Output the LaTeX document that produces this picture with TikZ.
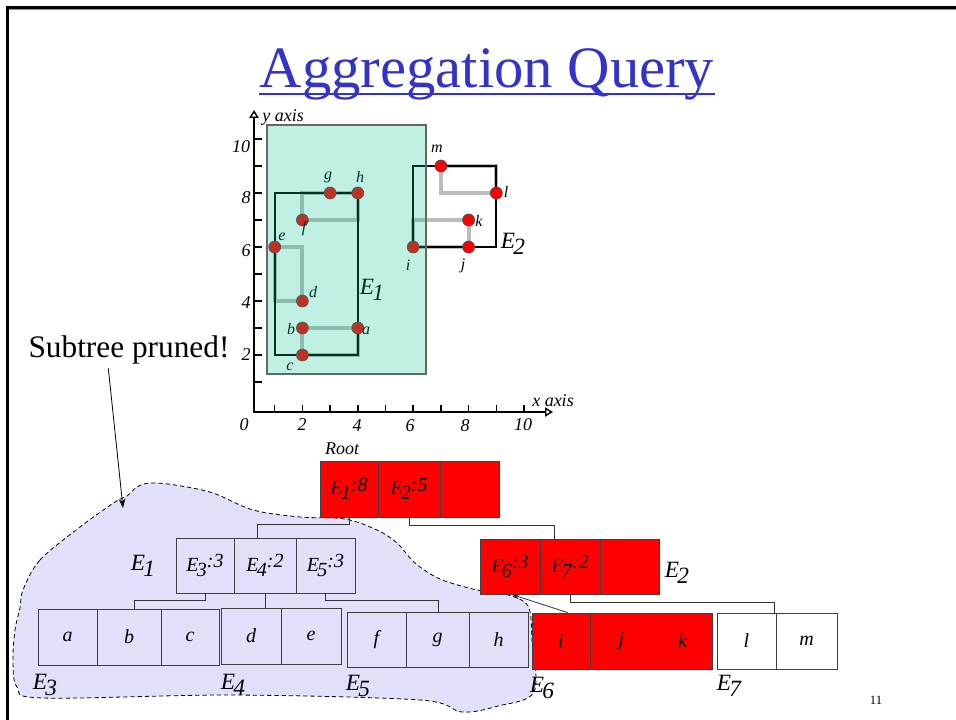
\documentclass[tikz,border=0pt]{standalone}
\usepackage{fontspec}
\setmainfont{Liberation Serif}
\usetikzlibrary{arrows.meta,calc}
\definecolor{titleblue}{HTML}{3333CC}
\definecolor{tealov}{RGB}{4,192,147}
\definecolor{cloudc}{RGB}{224,224,250}
\definecolor{mbrgray}{RGB}{188,188,188}
\definecolor{ptred}{RGB}{255,0,0}
\newcommand\Es[1]{E\kern-0.08em\raisebox{-0.55ex}{#1}}
\newcommand\cellbox[7]{%
  \pgfmathsetmacro\cw{(#4-#2)*0.75}%
  \pgfmathsetmacro\ch{(#5-#3)*0.75}%
  \node[cellst, fill=#6, minimum width=\cw pt, minimum height=\ch pt] (#1) at ({(#2+#4)/2},{(#3+#5)/2}) {#7};%
}
\newcommand\ctext[2]{\Es{#1}\raisebox{0.35ex}{:#2}}
\begin{document}
\begin{tikzpicture}[x=0.75pt,y=-0.75pt,
  cellst/.style={draw=black!75, line width=0.6pt, inner sep=0pt, font=\fontsize{15}{17}\selectfont\itshape},
  lbl/.style={inner sep=0pt, font=\fontsize{12}{14}\selectfont\itshape},
  num/.style={inner sep=0pt, font=\fontsize{13.5}{15}\selectfont\itshape},
  elbl/.style={inner sep=0pt, font=\fontsize{17.5}{20}\selectfont\itshape},
  dot/.style={circle, fill=ptred, draw=black!70, line width=0.5pt, minimum size=9pt, inner sep=0pt},
  mbr/.style={draw=mbrgray, line width=3pt},
  bigmbr/.style={draw=black, line width=1.5pt},
  conn/.style={draw=black!80, line width=0.6pt},
  axisl/.style={draw=black, line width=1.1pt},
]
\useasboundingbox (0,0) rectangle (956,720);
\fill[white] (0,0) rectangle (956,720);
% slide frame
\draw[black, line width=2.25pt] (6,7.5) -- (956,7.5);
\draw[black!45, line width=0.75pt] (9,9.8) -- (956,9.8);
\draw[black, line width=2.25pt] (7.5,6) -- (7.5,720);

% title
\node[anchor=base, inner sep=0pt, text=titleblue, font=\fontsize{44}{50}\selectfont] (ttl) at (487,88) {Aggregation Query};
\draw[titleblue, line width=1.3pt] ([yshift=-4.5pt]ttl.base west) -- ([yshift=-4.5pt]ttl.base east);

% cloud
\draw[fill=cloudc, line width=0.6pt, dash pattern=on 3.2pt off 2.2pt]
  plot[smooth cycle, tension=0.55] coordinates {
  (23,590) (40,560) (80,527) (115,502) (127,496) (137,487) (150,483) (175,485)
  (213,493) (253,510) (300,517) (345,519) (377,530) (397,543) (415,563)
  (440,579) (477,590) (505,594) (528,606) (532,640) (534,692) (498,706)
  (462,712) (420,700) (233,695) (43,698) (17,687) (13,660) (15,630) (20,608)};

% subtree pruned
\node[inner sep=0pt, font=\fontsize{23.5}{26}\selectfont] (sp) at (129,350) {Subtree pruned!};
\coordinate (sptip) at (123,508);
\draw[line width=0.6pt, -{Stealth[length=7pt,width=5pt]}] ([xshift=-15.5pt,yshift=-3pt]sp.south) -- (sptip);

% axes
\coordinate (O) at (254,412);
\coordinate (ytip) at (254,110);
\coordinate (xtip) at (553,412);
\draw[axisl, {Triangle[open,length=6pt,width=7pt]}-{Triangle[open,length=6pt,width=7pt]}] (ytip) -- (O) -- (xtip);
\foreach \v in {1,...,10} \draw[axisl] (254,{409-27*\v}) -- ++(8,0);
\foreach \u in {1,...,10} \draw[axisl] ({247+27.7*\u},412) -- ++(0,-7);
\node[num] (yl10) at (241,147) {10};
\node[num] (yl8) at (246,198) {8};
\node[num] (yl6) at (246,251) {6};
\node[num] (yl4) at (246,303) {4};
\node[num] (yl2) at (246,355) {2};
\node[num] (xl0) at (244,425) {0};
\node[num] (xl2) at (302,425) {2};
\node[num] (xl4) at (357,426) {4};
\node[num] (xl6) at (410,426) {6};
\node[num] (xl8) at (465,426) {8};
\node[num] (xl10) at (523,425) {10};
\node[num, anchor=west] (yax) at (262,117) {y axis};
\node[num] (xax) at (553,401) {x axis};

% data
\begin{scope}[shift={(185.25pt,-306.75pt)}, x=20.775pt, y=20.25pt]
  \draw[mbr] (2,2) rectangle (4,3);
  \draw[mbr] (1,4) rectangle (2,6);
  \draw[mbr] (2,7) rectangle (4,8);
  \draw[mbr] (6,6) rectangle (8,7);
  \draw[mbr] (7,8) rectangle (9,9);
  \draw[bigmbr] (1,2) rectangle (4,8);
  \draw[bigmbr] (6,6) rectangle (9,9);
  \node[dot] (pa) at (4,3) {};
  \node[dot] (pb) at (2,3) {};
  \node[dot] (pc) at (2,2) {};
  \node[dot] (pd) at (2,4) {};
  \node[dot] (pe) at (1,6) {};
  \node[dot] (pf) at (2,7) {};
  \node[dot] (pg) at (3,8) {};
  \node[dot] (ph) at (4,8) {};
  \node[dot] (pi) at (6,6) {};
  \node[dot] (pj) at (8,6) {};
  \node[dot] (pk) at (8,7) {};
  \node[dot] (pl) at (9,8) {};
  \node[dot] (pm) at (7,9) {};
\end{scope}
\node[lbl] (la) at (366,331) {a};
\node[lbl] (lb) at (291,329) {b};
\node[lbl] (lc) at (290,367) {c};
\node[lbl] (ld) at (313,292) {d};
\node[lbl] (le) at (282,237) {e};
\node[lbl] (lf) at (304,229) {f};
\node[lbl] (lg) at (328,177) {g};
\node[lbl] (lh) at (360,177) {h};
\node[lbl] (li) at (408,265) {i};
\node[lbl] (lj) at (463,266) {j};
\node[lbl] (lk) at (479,221) {k};
\node[lbl] (ll) at (506,192) {l};
\node[lbl] (lm) at (437,149) {m};
\node[elbl] (lE1) at (372,290) {\Es{1}};
\node[elbl] (lE2) at (513,244) {\Es{2}};

% teal overlay
\draw[draw=black!60, line width=0.8pt, fill=tealov, fill opacity=0.25] (267,125) rectangle (426,374);

% tree
\node[num] (root) at (342,449) {Root};
\cellbox{r1}{320}{461}{378}{517}{ptred}{\ctext{1}{8}}
\cellbox{r2}{378}{461}{440}{517}{ptred}{\ctext{2}{5}}
\cellbox{r3}{440}{461}{499}{517}{ptred}{}
\cellbox{n11}{176}{538}{234}{593}{cloudc}{\ctext{3}{3}}
\cellbox{n12}{234}{538}{296}{593}{cloudc}{\ctext{4}{2}}
\cellbox{n13}{296}{538}{355}{593}{cloudc}{\ctext{5}{3}}
\cellbox{n21}{480}{539}{540}{594}{ptred}{\ctext{6}{3}}
\cellbox{n22}{540}{539}{600}{594}{ptred}{\ctext{7}{2}}
\cellbox{n23}{600}{539}{659}{594}{ptred}{}
\cellbox{l31}{38}{609}{97}{665}{cloudc}{a}
\cellbox{l32}{97}{609}{161}{665}{cloudc}{b}
\cellbox{l33}{161}{609}{219}{665}{cloudc}{c}
\cellbox{l41}{221}{608}{281}{664}{cloudc}{d}
\cellbox{l42}{281}{608}{341}{664}{cloudc}{e}
\cellbox{l51}{347}{612}{406}{667}{cloudc}{f}
\cellbox{l52}{406}{612}{469}{667}{cloudc}{g}
\cellbox{l53}{469}{612}{528}{667}{cloudc}{h}
\cellbox{l61}{532}{613}{590}{669}{ptred}{i}
\cellbox{l62}{590}{613}{653}{669}{ptred}{j}
\cellbox{l63}{653}{613}{712}{669}{ptred}{k}
\cellbox{l71}{717}{613}{776}{669}{white}{l}
\cellbox{l72}{776}{613}{837}{669}{white}{m}

\node[elbl] (tE1) at (143,566) {\Es{1}};
\node[elbl] (tE2) at (677,573) {\Es{2}};
\node[elbl] (tE3) at (45,685) {\Es{3}};
\node[elbl] (tE4) at (233,685) {\Es{4}};
\node[elbl] (tE5) at (358,686) {\Es{5}};
\node[elbl] (tE6) at (542,688) {\Es{6}};
\node[elbl] (tE7) at (729,686) {\Es{7}};

% connectors
\coordinate (j1) at (257,524);
\draw[conn] (r1.south) |- (j1) -- (j1 |- n11.north);
\coordinate (j2) at (554,525);
\draw[conn] (r2.south) |- (j2) -- (j2 |- n21.north);
\coordinate (j3) at (134,600);
\draw[conn] (n11.south) |- (j3) -- (j3 |- l31.north);
\draw[conn] (n12.south) -- (n12.south |- l41.north);
\coordinate (j5) at (438,600);
\draw[conn] (n13.south) |- (j5) -- (j5 |- l51.north);
\draw[conn, -{Stealth[length=6pt,width=4pt]}] ([xshift=5pt]l61.north) -- ([xshift=24pt]n21.south west);
\coordinate (j7) at (774,602);
\draw[conn] (n22.south) |- (j7) -- (j7 |- l71.north);

\node[inner sep=0pt, font=\fontsize{9.5}{11}\selectfont] (pg11) at (876,700) {11};
\end{tikzpicture}
\end{document}
